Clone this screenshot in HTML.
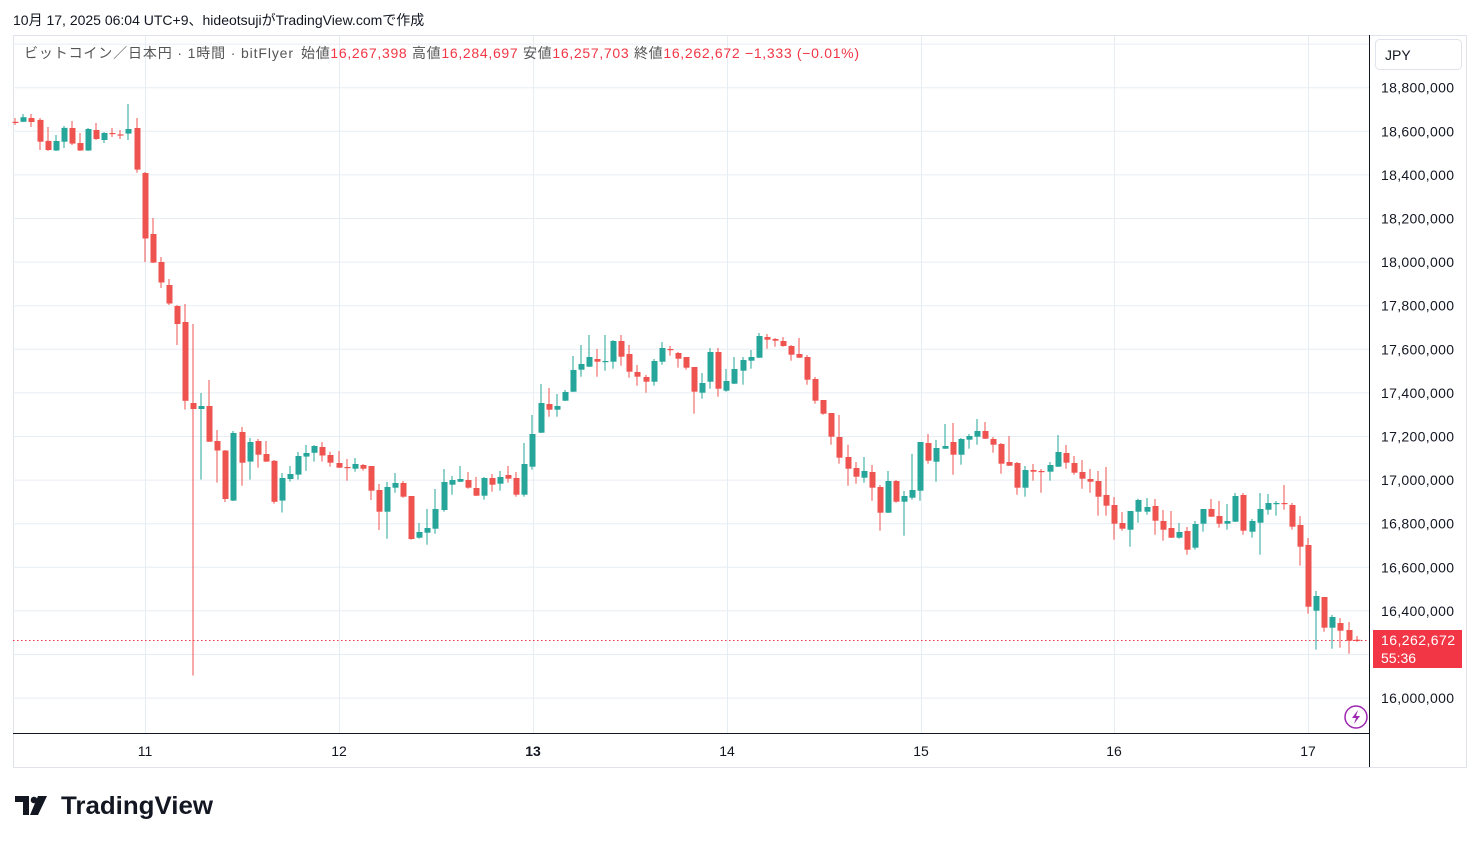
<!DOCTYPE html>
<html><head><meta charset="utf-8"><style>
body{margin:0;width:1479px;height:843px;background:#fff;overflow:hidden;font-family:"Liberation Sans","Noto Sans CJK JP",sans-serif;}
svg{position:absolute;left:0;top:0}
</style></head><body>
<svg id="s" width="1479" height="843" xmlns="http://www.w3.org/2000/svg" font-family="Liberation Sans, Noto Sans CJK JP, sans-serif">
<text x="13" y="25" font-size="14" fill="#131722">10月 17, 2025 06:04 UTC+9、hideotsujiがTradingView.comで作成</text>
<rect x="13.5" y="35.5" width="1453" height="732" fill="none" stroke="#e0e3eb"/>
<g id="grid" stroke="#e6edf3" stroke-width="1"></g>
<g id="candles"></g>
<line x1="13" y1="640.5" x2="1369" y2="640.5" stroke="#f23645" stroke-width="1" stroke-dasharray="1.5,2.5"/>
<line x1="13" y1="733.5" x2="1369" y2="733.5" stroke="#131722"/>
<line x1="1369.5" y1="35" x2="1369.5" y2="767" stroke="#131722"/>
<text x="24" y="58" font-size="14" fill="#555" textLength="269" lengthAdjust="spacing">ビットコイン／日本円 · 1時間 · bitFlyer</text>
<text x="301" y="58" font-size="14" textLength="558" lengthAdjust="spacing"><tspan fill="#555">始値</tspan><tspan fill="#f23645">16,267,398 </tspan><tspan fill="#555">高値</tspan><tspan fill="#f23645">16,284,697 </tspan><tspan fill="#555">安値</tspan><tspan fill="#f23645">16,257,703 </tspan><tspan fill="#555">終値</tspan><tspan fill="#f23645">16,262,672 </tspan><tspan fill="#f23645">−1,333 (−0.01%)</tspan></text>
<rect x="1375.5" y="39.5" width="86" height="30" rx="4" fill="#fff" stroke="#e0e3eb"/>
<text x="1385" y="60" font-size="14" fill="#131722">JPY</text>
<g id="ylab" font-size="14" fill="#131722"></g>
<rect x="1373" y="630" width="89" height="38" fill="#f23645"/>
<text x="1381" y="645" font-size="14" fill="#fff" textLength="74" lengthAdjust="spacing">16,262,672</text>
<text x="1381" y="663" font-size="14" fill="#fff">55:36</text>
<g font-size="14" fill="#131722" text-anchor="middle">
<text x="145" y="756">11</text><text x="339" y="756">12</text><text x="533" y="756" font-weight="bold">13</text><text x="727" y="756">14</text><text x="921" y="756">15</text><text x="1114" y="756">16</text><text x="1308" y="756">17</text>
</g>
<circle cx="1356" cy="717" r="11" fill="#fff" stroke="#9c27b0" stroke-width="1.5"/>
<path d="M1358 710 L1352 718 L1356 718 L1354 724 L1360 716 L1356 716 Z" fill="#9c27b0"/>
<g fill="#131722">
<path d="M15 796 H29 V815 H23 V802 H15 Z"/><circle cx="34" cy="800" r="3.3"/><path d="M38 796 H47 L38 815 H30 Z"/>
</g>
<text x="61" y="814" font-size="25" font-weight="bold" fill="#131722" textLength="152" lengthAdjust="spacingAndGlyphs">TradingView</text>
</svg>
<script>
var ns="http://www.w3.org/2000/svg";
function el(p,t,a){var e=document.createElementNS(ns,t);for(var k in a)e.setAttribute(k,a[k]);p.appendChild(e);return e;}
var g=document.getElementById('grid'),yl=document.getElementById('ylab');
for(var k=-1;k<=14;k++){var y=87.7+k*43.6;if(y<36)continue;el(g,'line',{x1:13,x2:1369,y1:y.toFixed(1),y2:y.toFixed(1)});
 var p=18800000-k*200000;if(k>=0&&k!=13){var t=el(yl,'text',{x:1381,y:(y+5).toFixed(1),textLength:73,lengthAdjust:'spacing'});t.textContent=p.toLocaleString('en-US');}}
[145,339,533,727,921,1114,1308].forEach(function(x){el(g,'line',{x1:x+.5,x2:x+.5,y1:36,y2:733});});
var D=[
[121.8,121.8,118,125,'r'],[121.8,117.2,114,122,'g'],[118,122,114,127,'r'],[119.9,141.7,118,150,'r'],[140.9,150,127,151,'r'],
[150.5,141,135,151,'g'],[141.7,127.9,126,148,'g'],[128,143.6,121,145,'r'],[143,150.5,133,151,'r'],[150.5,129,128,151,'g'],
[130,139,123,140,'r'],[140,133,132,143,'g'],[133,133,128,137,'r'],[134.4,134.4,130,139,'r'],[133.6,129,104,140,'g'],
[128,169.6,118,172.7,'r'],[173,238.5,172,262,'r'],[234,262.6,218,263,'r'],[262,282.5,257,288,'r'],[285,303.5,279,305,'r'],
[306,324,305,345,'r'],[322,400.8,304,409.5,'r'],[403,409,324,675.5,'r'],[409,406,393,479.6,'g'],[406,441.7,380,442,'r'],
[441,450.5,430,482.6,'r'],[450.5,499,450,502,'r'],[500.6,433,431,501,'g'],[432,462.7,427,485.7,'r'],[461.6,442,438,479.6,'g'],
[441,454.7,439,467.7,'r'],[454,461.6,441,462,'r'],[460.8,501.8,460,503.7,'r'],[500.6,478,473,512.5,'g'],[479,474,466,481.5,'g'],
[474.6,456,452,479.6,'g'],[456.6,453,445,470.8,'g'],[452.8,446,445,461.6,'g'],[447,455.5,442,461.6,'r'],[455,462.7,451.7,466.7,'r'],
[463,467.7,451,468,'r'],[467,467,459,480.7,'r'],[468.7,464,458,471.7,'g'],[465,468.7,464,470.7,'r'],[466,490.7,466,500,'r'],
[490,511.7,484,530,'r'],[511.7,487,482,538.7,'g'],[487.7,483,473,492.7,'g'],[483,496.7,481,497.7,'r'],[496,539,496,539.7,'r'],
[537.7,532,523,538.7,'g'],[532.7,528,509,544.7,'g'],[528.7,509,489,533.7,'g'],[510,482,469,511.7,'g'],[484.7,480,476,494.7,'g'],
[481.7,479,466,482,'g'],[480,487.7,472,488.7,'r'],[488,495.7,477,496,'r'],[495.7,478,477,499.7,'g'],[478,484.7,474,491.7,'r'],
[483.7,477,471,490.7,'g'],[475,478.7,466,482.7,'r'],[478,494.7,472,496.7,'r'],[494.7,464,443,496.7,'g'],[466.7,434,415,469.7,'g'],
[432.7,403,384,433,'g'],[404,409.7,388,416.7,'r'],[409.7,406,394,416.7,'g'],[400.7,392,390,401,'g'],[391.7,370,356,392,'g'],
[369.7,364,345,376.7,'g'],[366.7,357,335,367,'g'],[359,361.7,349,376.7,'r'],[361,361,335,370.7,'g'],[361.7,341,340,368.7,'g'],
[341,356.7,335,365.7,'r'],[354,371.7,345,377.7,'r'],[372,376.7,365,385.7,'r'],[377,381.7,375,392.7,'r'],[381.7,361,359,385.7,'g'],
[361.7,348,342,364.7,'g'],[349,349,346,355.7,'r'],[353,358.7,352,367.7,'r'],[357,367.7,357,369.7,'r'],[367,391.7,367,413.7,'r'],
[392.7,383,373,398.7,'g'],[381.7,352,348,388.7,'g'],[352,388.7,348,396.7,'r'],[390.7,381,369,391.7,'g'],[383.7,369,357,384,'g'],
[370.7,360,357,384.7,'g'],[360.7,357,350,368.7,'g'],[357.7,336,333,358,'g'],[337,339.7,334,348.7,'r'],[339,340.7,338,346.7,'r'],
[341,346,337,346.7,'r'],[346,354.7,345,360.7,'r'],[354,357.7,338,358,'r'],[357,379.7,355,384.7,'r'],[379,400.7,377,403.7,'r'],
[400,413.7,400,414.7,'r'],[413,436.7,413,444.7,'r'],[437,457.7,415,463.7,'r'],[457,468.7,444.7,485.7,'r'],[468,476.7,462,483.7,'r'],
[477.7,471,457,482.7,'g'],[472,487.7,465,500.7,'r'],[487,512.7,485,530.7,'r'],[512.7,481,471,513,'g'],[481,501.7,480,502.7,'r'],
[501.7,496,491,535.7,'g'],[497.7,490,454,499.7,'g'],[490.7,442,442,500.7,'g'],[443,460.7,434,463.7,'r'],[461.7,448,440,481.7,'g'],
[448.7,446,424,449,'g'],[442,454.7,423,474.7,'r'],[454.7,439,438,464.7,'g'],[439.7,436,434,448.7,'g'],[436.7,431,419,444.7,'g'],
[431,438.7,422,439,'r'],[439,444.7,437,452.7,'r'],[444,463.7,443,473.7,'r'],[462,465.7,436,466,'r'],[463,487.7,462,494.7,'r'],
[487.7,470,466,496.7,'g'],[470,471.7,464,480.7,'r'],[471,471,469,492.7,'r'],[471.7,465,462,480.7,'g'],[466.7,452,435,467,'g'],
[453,462.7,445,468.7,'r'],[463,472.7,456,474.7,'r'],[472,478.7,460,488.7,'r'],[479,481.7,469,492.7,'r'],[481,496.7,471,515.7,'r'],
[495,505.7,467,515.7,'r'],[505,523.7,497,539.7,'r'],[523,528.7,512,530.7,'r'],[529.7,511,511,546.7,'g'],[511.7,500,498.7,522.7,'g'],
[511.7,507,498,514.7,'g'],[506,520.7,499,534.7,'r'],[521,529.7,510,540.7,'r'],[528,537.7,511,538,'r'],[537.7,532,523,538.7,'g'],
[531,549.7,527,554.7,'r'],[547.7,524,521,549.7,'g'],[523.7,509,509,531.7,'g'],[509,516.7,499,517,'r'],[516,523.7,501,527.7,'r'],
[523.7,521,504,529.7,'g'],[521.7,496,493,522,'g'],[495,530.7,493,534.7,'r'],[531.7,521,519,537.7,'g'],[522.7,509,493,554.7,'g'],
[509.7,503,494,514.7,'g'],[503,503,501,515.7,'g'],[503,503,485,509.7,'r'],[505,526.7,503,529.7,'r'],[525,546.7,516,565.7,'r'],
[545,606.7,538,613.7,'r'],[610.7,596,591,649.7,'g'],[597,627.7,597,631.7,'r'],[627.7,617,615,648.7,'g'],[623,630.7,618,647.7,'r'],
[630,640.7,622,653.7,'r'],[639.7,640.7,636,642,'r']];
var c=document.getElementById('candles');
D.forEach(function(d,i){var x=15.3+8.08*i;var col=d[4]=='g'?'#26a69a':'#ef5350';
var xr=Math.round(x);
el(c,'rect',{x:xr-0.5,y:d[2],width:1,height:Math.max(1,d[3]-d[2]),fill:col});
var t=Math.min(d[0],d[1]),b=Math.max(d[0],d[1]);
el(c,'rect',{x:xr-2.5,y:t,width:6,height:Math.max(1.2,b-t),fill:col});});
</script>
</body></html>
